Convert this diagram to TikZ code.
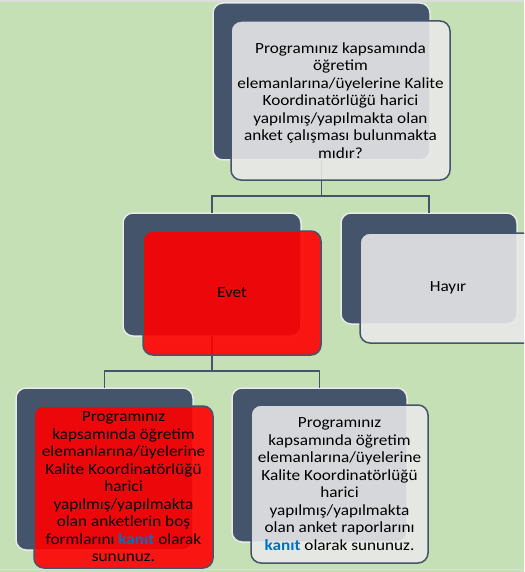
\documentclass[tikz,border=0pt]{standalone}
\usepackage{fontspec}
\setmainfont{Carlito}[FakeStretch=1.11]
\definecolor{slate}{RGB}{68,84,106}
\definecolor{bggreen}{RGB}{197,224,180}
\definecolor{backline}{RGB}{232,234,232}
\definecolor{frontgray}{RGB}{232,232,232}
\definecolor{kanitblue}{RGB}{0,112,192}
\definecolor{topstrip}{RGB}{220,220,220}
\newcommand{\kanitword}[1]{\textcolor{kanitblue}{\bfseries #1}}
\tikzset{
  backbox/.style={draw=backline, line width=1.5pt, fill=slate, rounded corners=10pt,
    inner sep=0pt, outer sep=0pt},
  frontbase/.style={draw=slate, line width=1.5pt, rounded corners=10pt, inner sep=0pt,
    outer sep=0pt, align=center, text=black, text opacity=1,
    font=\fontsize{15.5pt}{17.5pt}\selectfont},
  grayfront/.style={frontbase, fill=frontgray, fill opacity=0.89},
  redfront/.style={frontbase, fill=red, fill opacity=0.9},
  conn/.style={draw=slate, line width=1.5pt}
}
\begin{document}
\begin{tikzpicture}[x=1pt,y=-1pt]
\useasboundingbox (0,0) rectangle (524,572);
\clip (0,0) rectangle (524,572);
\fill[bggreen] (0,0) rectangle (524,572);
\fill[topstrip] (0,0) rectangle (524,2);
\fill[topstrip] (0,568.5) rectangle (524,570);
% back boxes
\node[backbox, minimum width=217pt, minimum height=157pt] (topdark) at (321.5,81.5) {};
\node[backbox, minimum width=178pt, minimum height=123pt] (evetdark) at (212,274.5) {};
\node[backbox, minimum width=176pt, minimum height=111pt] (hayirdark) at (429,268.5) {};
\node[backbox, minimum width=177pt, minimum height=162pt] (bldark) at (104.5,469) {};
\node[backbox, minimum width=175pt, minimum height=154pt] (brdark) at (319.5,465) {};
% connectors
\coordinate (j1) at (0,196);
\coordinate (j2) at (0,371);
\draw[conn] (topdark.south) -- (topdark.south |- j1);
\draw[conn] (evetdark.north) |- (j1 -| hayirdark.north) -- (hayirdark.north);
\draw[conn] (evetdark.south) -- (evetdark.south |- j2);
\draw[conn] (bldark.north) |- (j2 -| brdark.north) -- (brdark.north);
% front boxes
\node[grayfront, minimum width=219pt, minimum height=159pt] (topfront) at (340.5,100.5)
  {Programınız kapsamında\\öğretim\\elemanlarına/üyelerine Kalite\\Koordinatörlüğü harici\\yapılmış/yapılmakta olan\\anket çalışması bulunmakta\\mıdır?};
\node[redfront, minimum width=178pt, minimum height=124pt] (evetfront) at (232,293) {Evet};
\node[grayfront, minimum width=176pt, minimum height=110pt] (hayirfront) at (448,288) {Hayır};
\node[redfront, minimum width=179pt, minimum height=162pt] (blfront) at (123.5,487)
  {Programınız\\kapsamında öğretim\\elemanlarına/üyelerine\\Kalite Koordinatörlüğü\\harici\\yapılmış/yapılmakta\\olan anketlerin boş\\formlarını \kanitword{kanıt} olarak\\sununuz.};
\node[grayfront, minimum width=177pt, minimum height=158pt] (brfront) at (339.5,484)
  {Programınız\\kapsamında öğretim\\elemanlarına/üyelerine\\Kalite Koordinatörlüğü\\harici\\yapılmış/yapılmakta\\olan anket raporlarını\\\kanitword{kanıt} olarak sununuz.};
\end{tikzpicture}
\end{document}
